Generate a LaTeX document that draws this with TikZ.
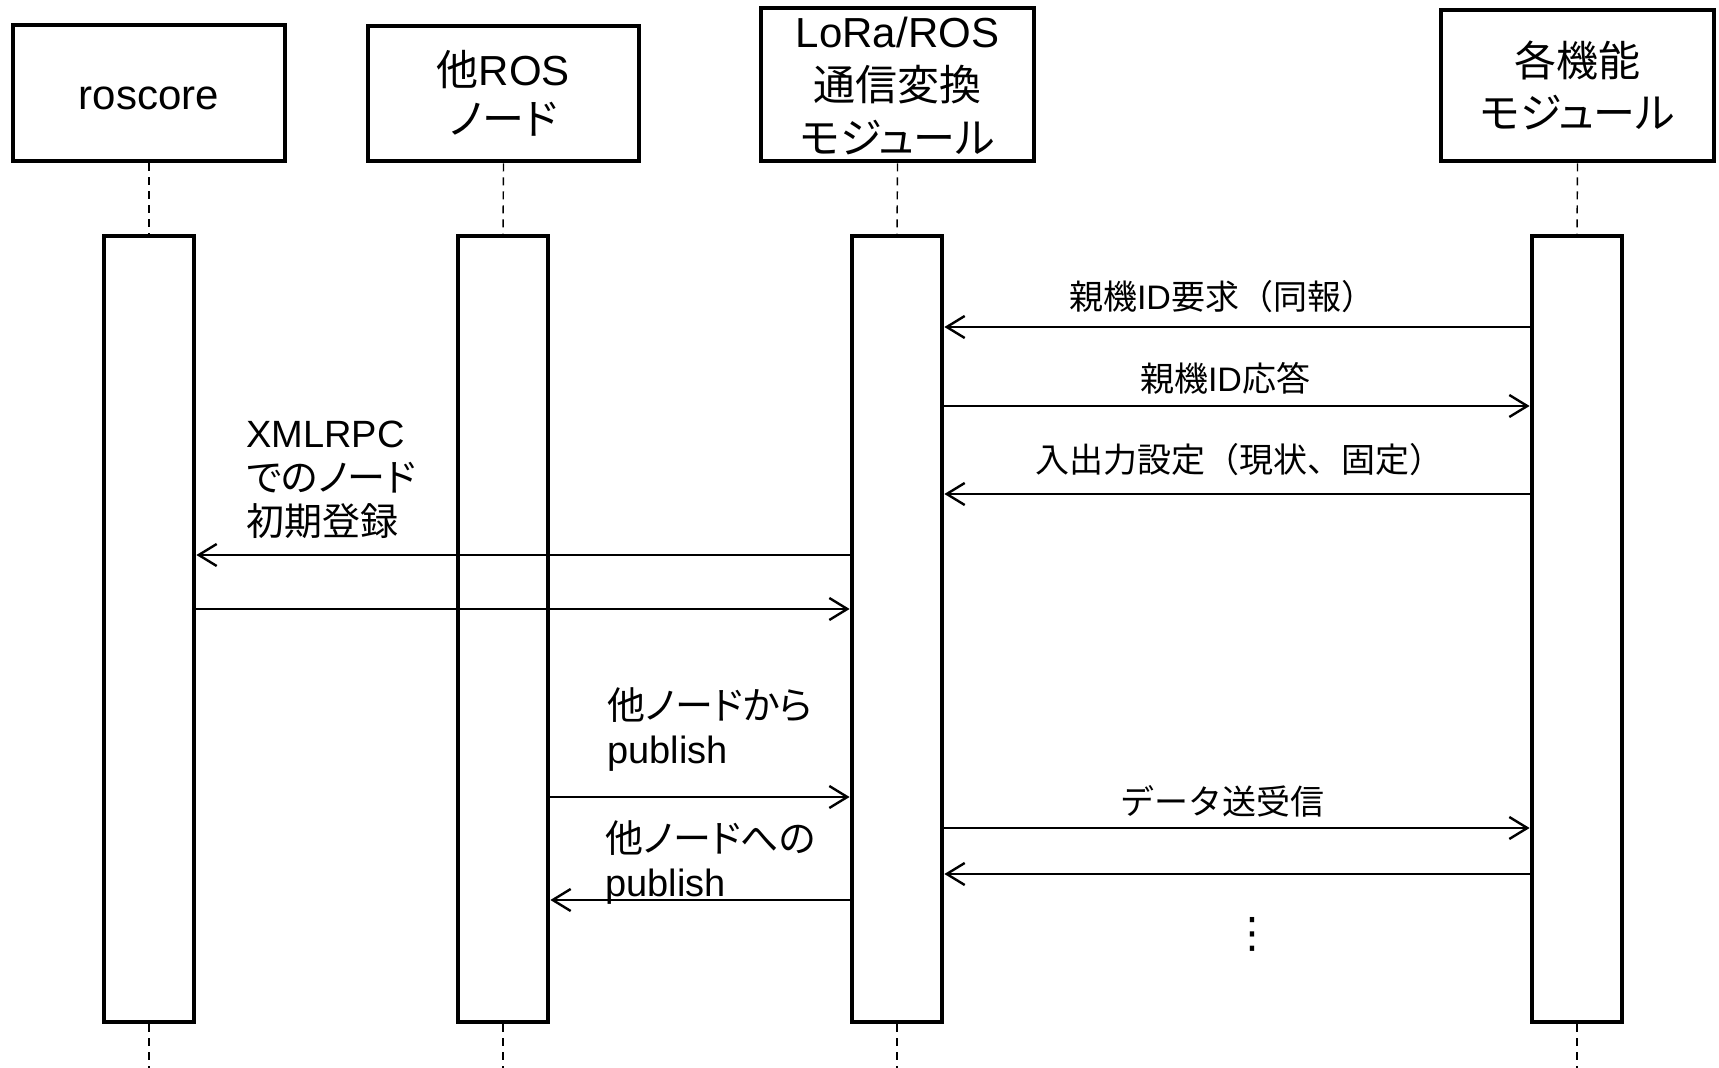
\documentclass[tikz,border=0pt]{standalone}
\usepackage{fontspec}
\setmainfont{Liberation Sans}
\newfontfamily\jp{Noto Sans CJK JP}
\newfontfamily\jpp{Noto Sans CJK JP}[RawFeature=+palt]
\newfontfamily\sym{DejaVu Sans}
\usetikzlibrary{arrows.meta}
\begin{document}
\begin{tikzpicture}[x=0.5pt,y=-0.5pt,
  hbox/.style={draw,line width=2.4pt,inner sep=0pt,align=center,font=\fontsize{21pt}{25pt}\selectfont},
  act/.style={draw,line width=2.4pt,minimum width=45pt,minimum height=393pt,inner sep=0pt},
  life/.style={line width=0.7pt,dash pattern=on 4pt off 3pt},
  msg/.style={line width=1.2pt,-{Straight Barb[length=9pt,width=11pt]}},
  lbl/.style={font=\fontsize{17pt}{20pt}\selectfont,inner sep=0pt},
  slbl/.style={font=\fontsize{19pt}{22pt}\selectfont,inner sep=0pt,align=left,anchor=west}]
\useasboundingbox[fill=white] (0,0) rectangle (1719,1068);
% header boxes
\node[hbox,minimum width=136pt,minimum height=68pt] (h1) at (149,93) {\raisebox{-2.8pt}[\height][\depth]{roscore}};
\node[hbox,minimum width=135.5pt,minimum height=67.5pt,font=\fontsize{21pt}{23.5pt}\selectfont] (h2) at (503.5,93.5) {{\jp 他}ROS\\[1pt]{\jpp ノード}};
\node[hbox,minimum width=136.5pt,minimum height=76.5pt] (h3) at (897.5,84.5) {\raisebox{-0.8pt}[\height][\depth]{\parbox{130pt}{\centering LoRa/ROS\\[1.4pt]{\jp 通信変換}\\[1.4pt]{\jpp モジュール}}}};
\node[hbox,minimum width=136.5pt,minimum height=75.5pt] (h4) at (1577.5,85.5) {\parbox{130pt}{\centering {\jp 各機能}\\[1pt]{\jpp モジュール}}};
% activation boxes
\node[act] (a1) at (149,629) {};
\node[act] (a2) at (503,629) {};
\node[act] (a3) at (897,629) {};
\node[act] (a4) at (1577,629) {};
% lifelines
\coordinate (e1) at (149,1068);
\coordinate (e2) at (503,1068);
\coordinate (e3) at (897,1068);
\coordinate (e4) at (1577,1068);
\draw[life] (h1.south) -- (a1.north);
\draw[life] (h2.south) -- (a2.north);
\draw[life] (h3.south) -- (a3.north);
\draw[life] (h4.south) -- (a4.north);
\draw[life] (a1.south) -- (e1);
\draw[life] (a2.south) -- (e2);
\draw[life] (a3.south) -- (e3);
\draw[life] (a4.south) -- (e4);
% messages
\node[lbl] (l1) at (1222,297) {{\jp 親機}ID{\jp 要求（同報）}};
\draw[msg] (a4.west |- 0,327) -- (a3.east |- 0,327);
\node[lbl] (l2) at (1225,378) {{\jp 親機}ID{\jp 応答}};
\draw[msg] (a3.east |- 0,406) -- (a4.west |- 0,406);
\node[lbl] (l3) at (1239,460) {{\jp 入出力設定（現状、固定）}};
\draw[msg] (a4.west |- 0,494) -- (a3.east |- 0,494);
\node[slbl] (l4) at (246,480) {XMLRPC\\{\jpp でのノード}\\{\jp 初期登録}};
\draw[msg] (a3.west |- 0,555) -- (a1.east |- 0,555);
\draw[msg] (a1.east |- 0,609) -- (a3.west |- 0,609);
\node[slbl] (l5) at (607,730) {{\jpp 他ノードから}\\publish};
\draw[msg] (a2.east |- 0,797) -- (a3.west |- 0,797);
\node[lbl] (l6) at (1222,801) {{\jp データ送受信}};
\draw[msg] (a3.east |- 0,828) -- (a4.west |- 0,828);
\draw[msg] (a4.west |- 0,874) -- (a3.east |- 0,874);
\node[slbl] (l7) at (605,863) {{\jpp 他ノードへの}\\publish};
\draw[msg] (a3.west |- 0,900) -- (a2.east |- 0,900);
\node[font=\sym\fontsize{21pt}{21pt}\selectfont,inner sep=0pt] (dots) at (1252,934) {⋮};
\end{tikzpicture}
\end{document}
